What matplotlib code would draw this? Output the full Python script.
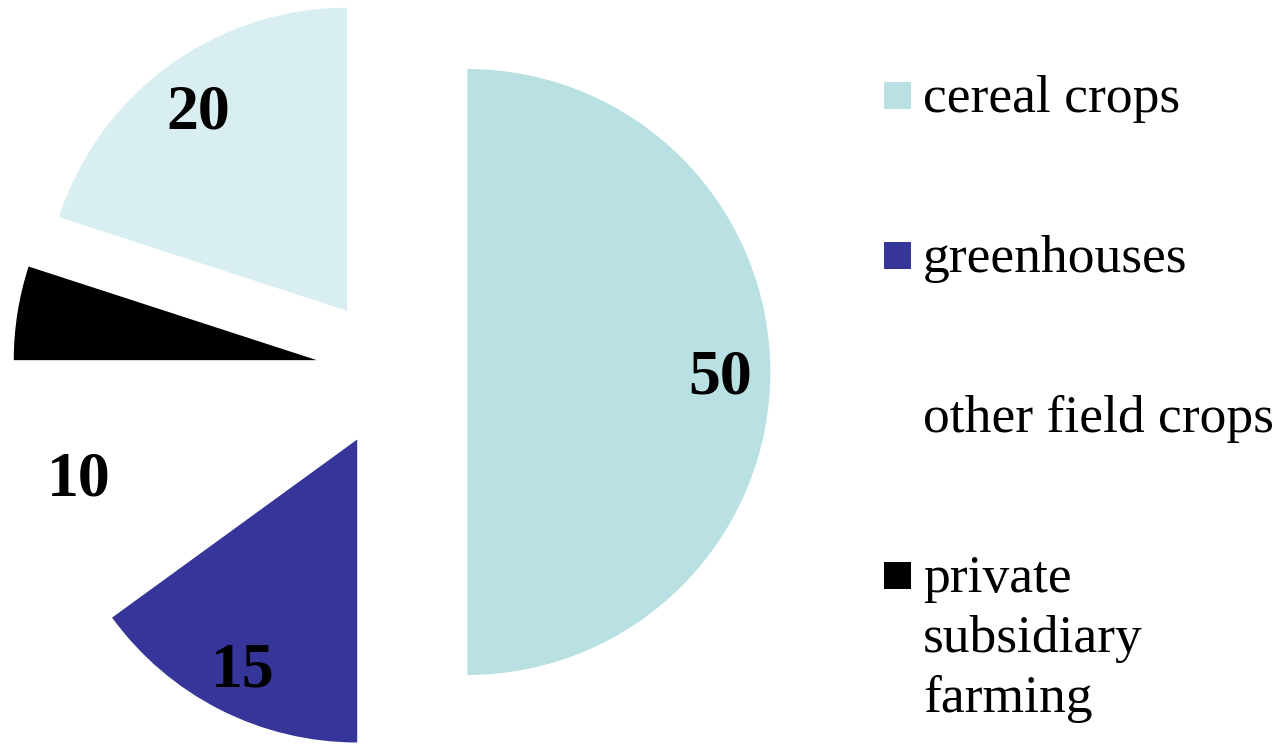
import matplotlib.pyplot as plt
from matplotlib.patches import Rectangle

# shares in percent, clockwise from 12 o'clock
values = [50, 15, 10, 5, 20]
colors = ["#b9e0e3", "#36359a", "#ffffff", "#000000", "#d9eef0"]

legend_names = ["cereal crops", "greenhouses", "other field crops",
                "private\nsubsidiary\nfarming"]
legend_colors = colors[:4]

plt.rcParams['font.family'] = ['Liberation Serif', 'DejaVu Serif']

W, H = 1276, 744
fig = plt.figure(figsize=(W / 100, H / 100), dpi=100)
# pie centre at about (392, 372) px, radius 303 px
r_px = 303
half = 1.25 * r_px
ax = fig.add_axes([(391.6 - half) / W, (372 - half) / H, 2 * half / W, 2 * half / H])

def pct_label(p):
    # the small black slice is left unlabelled
    return f"{p:.0f}" if p >= 10 else ""

wedges, texts, autotexts = ax.pie(
    values, colors=colors, startangle=90, counterclock=False,
    explode=[0.25] * len(values), radius=1,
    autopct=pct_label, pctdistance=0.835,
    wedgeprops=dict(linewidth=0),
    textprops=dict(fontsize=46, fontweight='bold', color='black'))
for t in autotexts:
    t.set_va('center_baseline')
ax.set_xlim(-1.25, 1.25)
ax.set_ylim(-1.25, 1.25)
ax.set_aspect('equal')
ax.axis('off')

# legend drawn by hand: square + text lines, rows 160 px apart
for i, (name, col) in enumerate(zip(legend_names, legend_colors)):
    top = 82 + 160 * i
    fig.patches.append(Rectangle((884 / W, (H - top - 27) / H), 27 / W, 27 / H,
                                 transform=fig.transFigure, facecolor=col,
                                 edgecolor='none'))
    for j, line in enumerate(name.split("\n")):
        base = top + 30 + 60 * j
        fig.text(923 / W, (H - base) / H, line, fontsize=38.5,
                 va='baseline', ha='left')

fig.savefig("out.png", dpi=100)
